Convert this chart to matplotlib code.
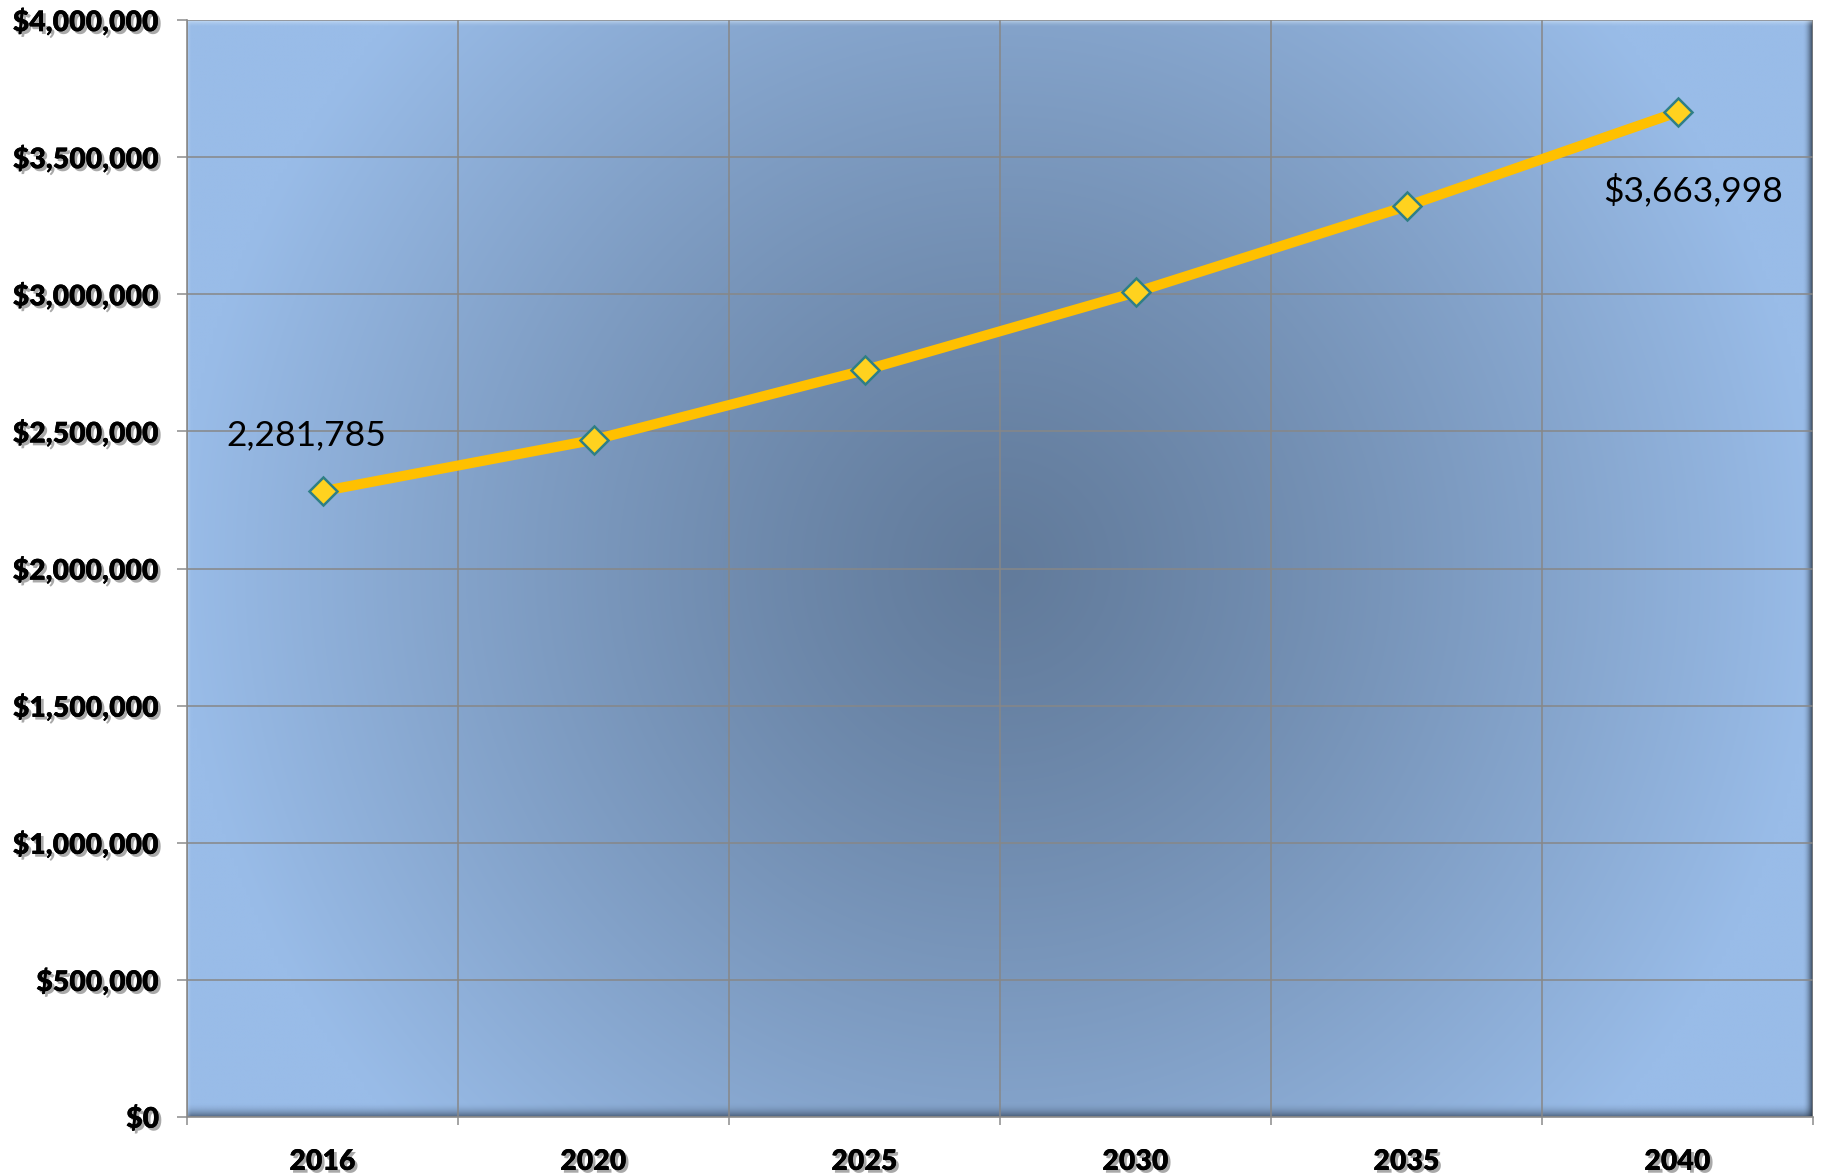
import numpy as np
import matplotlib
matplotlib.use("Agg")
import matplotlib.pyplot as plt
import matplotlib.patheffects as pe
from matplotlib.patches import Rectangle
from matplotlib.ticker import FuncFormatter

# === Data ===
years = ["2016", "2020", "2025", "2030", "2035", "2040"]
values = [2281785, 2469000, 2723000, 3007000, 3321000, 3663998]
first_label = "2,281,785"
last_label = "$3,663,998"

W, H, DPI = 1823, 1174, 100
fig = plt.figure(figsize=(W / DPI, H / DPI), dpi=DPI)
ax = fig.add_axes([187 / W, (H - 1117) / H, 1626 / W, (1117 - 20) / H])

x = np.arange(len(years))
ax.set_xlim(-0.5, len(years) - 0.5)
ax.set_ylim(0, 4000000)

# radial gradient background (dark centre, light edges)
pw, ph = 1626, 1097
nx, ny = 400, int(400 * ph / pw)
gx, gy = np.meshgrid(np.linspace(-pw / 2, pw / 2, nx), np.linspace(-ph / 2, ph / 2, ny))
r = np.sqrt(gx ** 2 + gy ** 2) / 820
t = np.clip(r, 0, 1) ** 1.2
c_in = np.array([98, 123, 155]) / 255
c_out = np.array([153, 188, 232]) / 255
img = c_in[None, None, :] * (1 - t[..., None]) + c_out[None, None, :] * t[..., None]
ax.imshow(img, extent=(-0.5, len(years) - 0.5, 0, 4000000), aspect="auto", zorder=0,
          interpolation="bilinear")

# bevel edges, drawn as thin strips fading towards the inside
n = 14
for i in range(n):
    a = 0.65 * ((i + 1) / n) ** 2
    ax.add_patch(Rectangle((0, (n - 1 - i) / ph), 1, 1 / ph, transform=ax.transAxes,
                           color="#2c3b50", alpha=a, lw=0, zorder=1))
n = 10
for i in range(n):
    a = 0.8 * ((i + 1) / n) ** 2
    ax.add_patch(Rectangle((1 - (n - i) / pw, 0), 1 / pw, 1, transform=ax.transAxes,
                           color="#1f2a38", alpha=a, lw=0, zorder=1))
n = 7
for i in range(n):
    a = 0.6 * ((i + 1) / n) ** 2
    ax.add_patch(Rectangle((0, 1 - (n - i) / ph), 1, 1 / ph, transform=ax.transAxes,
                           color="#dcecfb", alpha=a, lw=0, zorder=1))
n = 5
for i in range(n):
    a = 0.35 * ((i + 1) / n) ** 2
    ax.add_patch(Rectangle(((n - 1 - i) / pw, 0), 1 / pw, 1, transform=ax.transAxes,
                           color="#d6e8fb", alpha=a, lw=0, zorder=1))

# grid
ax.set_yticks(np.arange(0, 4000001, 500000))
ax.set_xticks(x)
ax.set_xticks(np.arange(-0.5, len(years)), minor=True)
ax.grid(True, axis="y", color="#878787", lw=1.1, zorder=2)
ax.grid(True, axis="x", which="minor", color="#878787", lw=1.1, zorder=2)
ax.set_axisbelow(False)

ax.plot(x, values, color="#FFC000", lw=7.3, zorder=3, solid_capstyle="round")
ax.plot(x, values, ls="none", marker="D", ms=14, mfc="#FFD21F", mec="#2F7F86", mew=1.8, zorder=4)

ax.annotate(first_label, (x[0], values[0]), xytext=(-12, 40), textcoords="offset points",
            ha="center", va="center", fontsize=25.5, family="Lato", color="black", zorder=5)
ax.annotate(last_label, (x[-1], values[-1]), xytext=(11, -56), textcoords="offset points",
            ha="center", va="center", fontsize=25.5, family="Lato", color="black", zorder=5)

# axes styling
for s in ["top", "right"]:
    ax.spines[s].set_visible(False)
for s in ["left", "bottom"]:
    ax.spines[s].set_color("#8c8c8c")
    ax.spines[s].set_linewidth(1.2)

ax.yaxis.set_major_formatter(FuncFormatter(lambda v, p: f"${v:,.0f}"))
ax.set_xticklabels(years)
ax.tick_params(axis="y", length=7, color="#8c8c8c", width=1.1, pad=13)
ax.tick_params(axis="x", which="major", length=0, pad=23)
ax.tick_params(axis="x", which="minor", length=6, color="#8c8c8c", width=1.1)

shadow = [pe.withSimplePatchShadow(offset=(2, -2), shadow_rgbFace="#555555", alpha=0.5), pe.Normal()]
for lab in ax.get_xticklabels() + ax.get_yticklabels():
    lab.set_fontfamily("Lato")
    lab.set_fontweight("heavy")
    lab.set_fontsize(20.5)
    lab.set_path_effects(shadow)

fig.savefig("out.png", dpi=DPI)
